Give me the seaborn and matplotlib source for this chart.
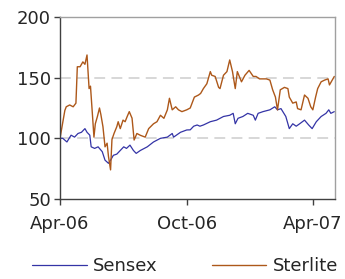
import matplotlib
matplotlib.use("Agg")
import matplotlib.pyplot as plt
import seaborn as sns
import pandas as pd

sensex_dates = [
    "2006-04-01", "2006-04-05", "2006-04-11", "2006-04-17", "2006-04-22", "2006-04-27",
    "2006-05-02", "2006-05-07", "2006-05-10", "2006-05-14", "2006-05-16", "2006-05-21",
    "2006-05-26", "2006-06-01", "2006-06-05", "2006-06-10", "2006-06-13", "2006-06-17",
    "2006-06-22", "2006-06-27", "2006-07-02", "2006-07-06", "2006-07-11", "2006-07-16",
    "2006-07-20", "2006-07-26", "2006-08-05", "2006-08-14", "2006-08-24", "2006-09-03",
    "2006-09-10", "2006-09-12", "2006-09-22", "2006-10-01", "2006-10-06", "2006-10-11",
    "2006-10-16", "2006-10-20", "2006-10-25", "2006-11-04", "2006-11-13", "2006-11-23",
    "2006-12-02", "2006-12-07", "2006-12-10", "2006-12-14", "2006-12-21", "2006-12-28",
    "2007-01-05", "2007-01-08", "2007-01-12", "2007-01-19", "2007-01-29", "2007-02-05",
    "2007-02-09", "2007-02-14", "2007-02-21", "2007-02-26", "2007-03-03", "2007-03-08",
    "2007-03-13", "2007-03-20", "2007-03-26", "2007-03-31", "2007-04-06", "2007-04-13",
    "2007-04-20", "2007-04-24", "2007-04-27", "2007-05-02",
]
sensex_values = [
    100, 100, 97, 102.6, 101, 104,
    105, 108, 105, 102.6, 93, 91.7,
    93, 89, 82, 79.4, 82, 86,
    87, 90, 93, 91.7, 94.4, 90,
    87.6, 90, 93, 97, 100, 101,
    104, 101, 105, 106.9, 107, 110,
    111, 110, 111, 113.7, 115, 118,
    119, 120.6, 112, 116.5, 118, 120.6,
    119, 115, 120.6, 122, 123.5, 126,
    123.5, 124.5, 118, 108, 112, 110,
    112, 115, 111, 108, 113.7, 118,
    120.6, 123.5, 120.6, 122,
]

sterlite_dates = [
    "2006-04-01", "2006-04-08", "2006-04-10", "2006-04-15", "2006-04-20", "2006-04-24",
    "2006-04-26", "2006-04-30", "2006-05-04", "2006-05-07", "2006-05-10", "2006-05-13",
    "2006-05-15", "2006-05-18", "2006-05-20", "2006-05-22", "2006-05-25", "2006-05-28",
    "2006-05-30", "2006-06-02", "2006-06-05", "2006-06-08", "2006-06-10", "2006-06-13",
    "2006-06-15", "2006-06-18", "2006-06-22", "2006-06-24", "2006-06-27", "2006-07-01",
    "2006-07-04", "2006-07-07", "2006-07-10", "2006-07-14", "2006-07-17", "2006-07-21",
    "2006-07-26", "2006-08-02", "2006-08-07", "2006-08-14", "2006-08-19", "2006-08-24",
    "2006-08-29", "2006-09-03", "2006-09-06", "2006-09-10", "2006-09-15", "2006-09-19",
    "2006-09-24", "2006-10-01", "2006-10-06", "2006-10-12", "2006-10-18", "2006-10-21",
    "2006-10-25", "2006-10-30", "2006-11-04", "2006-11-06", "2006-11-11", "2006-11-16",
    "2006-11-18", "2006-11-23", "2006-11-28", "2006-12-02", "2006-12-06", "2006-12-10",
    "2006-12-13", "2006-12-19", "2006-12-24", "2006-12-30", "2007-01-05", "2007-01-09",
    "2007-01-14", "2007-01-19", "2007-01-24", "2007-01-29", "2007-02-02", "2007-02-06",
    "2007-02-09", "2007-02-13", "2007-02-19", "2007-02-24", "2007-02-26", "2007-03-03",
    "2007-03-08", "2007-03-10", "2007-03-15", "2007-03-20", "2007-03-25", "2007-03-29",
    "2007-04-01", "2007-04-05", "2007-04-08", "2007-04-13", "2007-04-18", "2007-04-23",
    "2007-04-25", "2007-05-02",
]
sterlite_values = [
    100, 123, 126, 127.5, 126, 129,
    159, 159, 163, 161, 168.7, 141,
    143, 118, 101, 112, 118, 125,
    119.6, 109.6, 93, 96, 85, 74,
    99, 104, 109.6, 113.7, 108, 115,
    113.7, 118, 122, 116.6, 98.6, 104,
    102.5, 101, 108, 112, 113.7, 119,
    116.5, 123.5, 133, 123.5, 126, 123.5,
    122, 123.5, 125, 134, 135.7, 137,
    141, 145, 155, 152, 151, 142,
    141, 152, 155, 164.6, 155, 141,
    155, 146.6, 152, 156, 151, 151,
    149, 149, 149, 148, 140, 134,
    123.4, 140, 142, 141, 134, 129,
    130, 124.5, 123.5, 135.7, 133, 126,
    123.5, 134, 141, 146.6, 148, 149,
    144, 151,
]

y_ticks = [50, 100, 150, 200]
x_tick_dates = ["2006-04-01", "2006-10-01", "2007-04-01"]
x_tick_labels = ["Apr-06", "Oct-06", "Apr-07"]

df_sx = pd.DataFrame({"date": pd.to_datetime(sensex_dates), "value": sensex_values})
df_st = pd.DataFrame({"date": pd.to_datetime(sterlite_dates), "value": sterlite_values})

sns.set_style("white")
plt.rcParams["font.family"] = ["DejaVu Sans"]

fig = plt.figure(figsize=(3.45, 2.79), dpi=100)
ax = fig.add_axes([60 / 345, 1 - 199 / 279, 275 / 345, 182 / 279])

sns.lineplot(data=df_sx, x="date", y="value", ax=ax, color="#3434a6", lw=0.9, label="Sensex")
sns.lineplot(data=df_st, x="date", y="value", ax=ax, color="#ad581a", lw=1.0, label="Sterlite")

ax.set_ylim(50, 200)
ax.set_xlim(pd.Timestamp("2006-04-01"), pd.Timestamp("2007-05-03"))
ax.set_yticks(y_ticks)
ax.set_xticks(pd.to_datetime(x_tick_dates))
ax.set_xticklabels(x_tick_labels)
ax.set_xlabel("")
ax.set_ylabel("")

for yv in [100, 150]:
    ax.axhline(yv, color="#d4d4d4", lw=1.3, ls=(0, (6, 3.5)), zorder=0)

for side in ["left", "bottom"]:
    ax.spines[side].set_color("#404040")
    ax.spines[side].set_linewidth(1.0)
for side in ["top", "right"]:
    ax.spines[side].set_color("#a0a0a0")
    ax.spines[side].set_linewidth(1.0)

ax.tick_params(axis="both", which="both", direction="out", length=4.5, width=1,
               color="#404040", labelsize=13, pad=2, left=True, bottom=True)
ax.tick_params(axis="x", pad=7)

leg = ax.legend(loc="upper center", bbox_to_anchor=(0.455, -0.318), ncol=2,
                frameon=False, fontsize=13, handlelength=3.0, handletextpad=0.33,
                columnspacing=3.05, borderaxespad=0, borderpad=0)

fig.savefig("out.png", dpi=100)
